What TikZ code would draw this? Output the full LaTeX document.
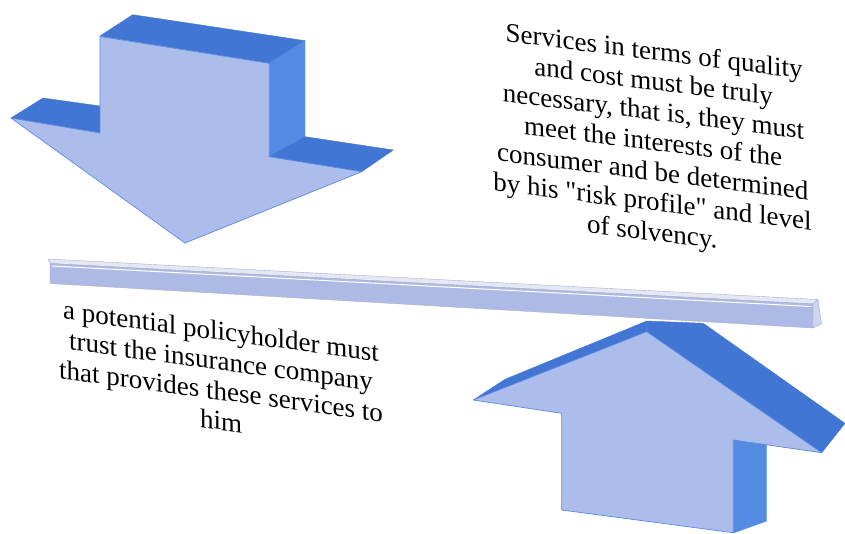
\documentclass[tikz,border=0pt]{standalone}
\usepackage{fontspec}
\setmainfont{Liberation Serif}[Ligatures=TeXOff]
\definecolor{facec}{RGB}{172,189,236}
\definecolor{edgec}{RGB}{90,138,226}
\definecolor{topc}{RGB}{66,118,212}
\definecolor{sidec}{RGB}{84,140,228}
\definecolor{barc}{RGB}{174,186,230}
\definecolor{bartop}{RGB}{228,232,246}
\definecolor{barend}{RGB}{205,213,240}
\definecolor{baredge}{RGB}{170,175,195}
\begin{document}
\begin{tikzpicture}[x=1pt,y=-1pt,
  face/.style={fill=facec, draw=edgec, line width=0.7pt, line join=round},
  topface/.style={fill=topc, draw=topc, line width=0.4pt, line join=round},
  sideface/.style={fill=sidec, draw=sidec, line width=0.4pt, line join=round},
  txt/.style={font=\fontsize{27}{30}\selectfont, anchor=base, inner sep=0pt, transform shape},
  rtxt/.style={txt, yslant=-0.125},
  ltxt/.style={txt, yslant=-0.135}]
\useasboundingbox (0,0) rectangle (845,533);
\fill[white] (0,0) rectangle (845,533);

% ---- down arrow ----
\path[topface] (100,36) -- (132.7,14.7) -- (305,40.7) -- (269.3,63.3) -- cycle;
\path[sideface] (269.3,63.3) -- (305,40.7) -- (305,136.7) -- (269.3,156.7) -- cycle;
\path[topface] (269.3,156.7) -- (305,136.7) -- (393.3,150) -- (361.7,171.7) -- cycle;
\path[topface] (11,118) -- (43,98) -- (100,106) -- (100,133) -- cycle;
\path[face] (100,36.5) -- (269.3,63.3) -- (269.3,156.7) -- (361.7,171.7)
  -- (185,243) -- (11,118) -- (100,133) -- cycle;

% ---- bar ----
\path[fill=bartop, draw=baredge, line width=0.4pt] (48,259) -- (818,299.5) -- (813,304) -- (50,263.5) -- cycle;
\path[fill=barc, draw=baredge, line width=0.4pt] (50,263.5) -- (813,304) -- (813,328) -- (50,283.5) -- cycle;
\path[fill=barend, draw=baredge, line width=0.4pt] (813,304) -- (818,299.5) -- (821.5,324) -- (813,328) -- cycle;
\draw[white, line width=1pt] (52,266) -- (811,306.5);

% ---- up arrow ----
\path[sideface] (733.3,440) -- (766.7,444) -- (766.7,521) -- (733.3,533) -- cycle;
\path[topface] (473.3,400) -- (505,379.3) -- (646.7,321) -- (646.7,331.7) -- cycle;
\path[topface] (646.7,321) -- (703.3,323.3) -- (845,423.3) -- (821.7,452.7) -- (646.7,331.7) -- cycle;
\path[face] (646.7,331.7) -- (821.7,452.7) -- (733.3,440) -- (733.3,532.7)
  -- (561.7,510) -- (561.7,413.3) -- (473.3,400) -- cycle;

% ---- texts ----
\node[rtxt] (r1) at (654,60) {Services in terms of quality};
\node[rtxt] (r2) at (653.7,90.1) {and cost must be truly};
\node[rtxt] (r3) at (653.4,120.2) {necessary, that is, they must};
\node[rtxt] (r4) at (653.1,150.3) {meet the interests of the};
\node[rtxt] (r5) at (652.8,180.4) {consumer and be determined};
\node[rtxt] (r6) at (652.5,210.5) {by his "risk profile" and level};
\node[rtxt] (r7) at (652.2,240.6) {of solvency.};

\node[ltxt] (l1) at (221,340.3) {a potential policyholder must};
\node[ltxt] (l2) at (221,370.2) {trust the insurance company};
\node[ltxt] (l3) at (221,400.1) {that provides these services to};
\node[ltxt] (l4) at (221,430) {him};
\end{tikzpicture}
\end{document}
